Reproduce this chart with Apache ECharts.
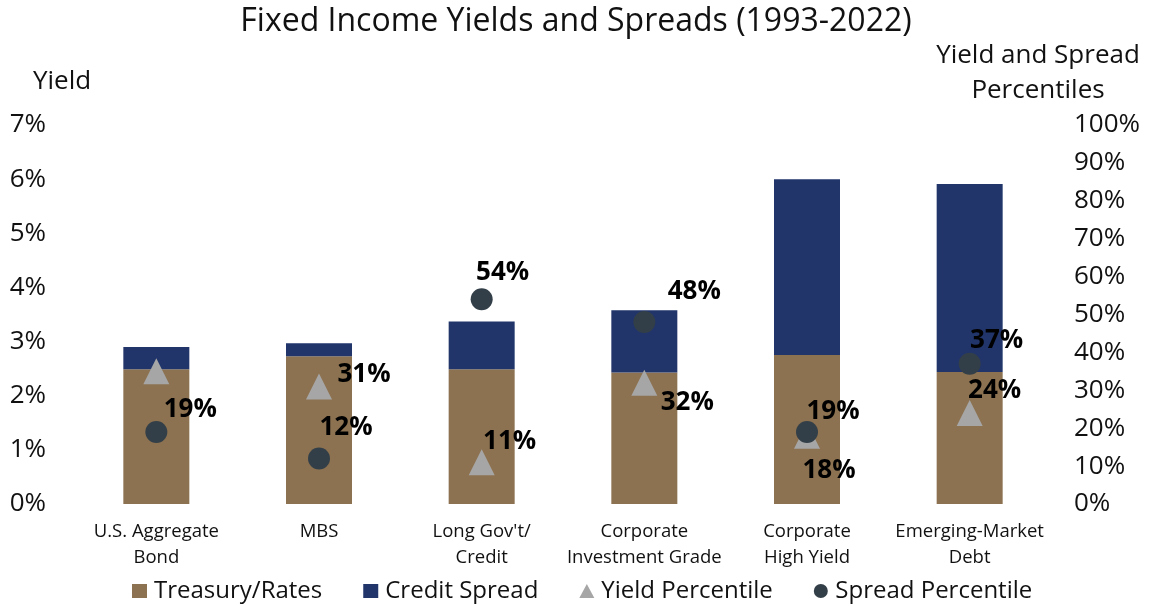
<!DOCTYPE html>
<html>
<head>
<meta charset="utf-8">
<script src="https://cdn.jsdelivr.net/npm/echarts@6/dist/echarts.min.js"></script>
<style>
  html, body { margin: 0; padding: 0; background: #fff; }
  #chart { width: 1152px; height: 606px; }
</style>
</head>
<body>
<div id="chart"></div>
<script>
const categories = [
  'U.S. Aggregate\nBond',
  'MBS',
  "Long Gov't/\nCredit",
  'Corporate\nInvestment Grade',
  'Corporate\nHigh Yield',
  'Emerging-Market\nDebt'
];
const treasuryRates = [2.49, 2.73, 2.49, 2.43, 2.75, 2.44];
const creditSpread = [0.41, 0.24, 0.88, 1.15, 3.25, 3.47];
const yieldPercentile = [35, 31, 11, 32, 18, 24];
const spreadPercentile = [19, 12, 54, 48, 19, 37];
const yieldTicks = [0, 1, 2, 3, 4, 5, 6, 7];
const percentileTicks = [0, 10, 20, 30, 40, 50, 60, 70, 80, 90, 100];

// hand-placed label offsets, like the original
const yieldLabelOffsets = [null, [45, -12], [28, -21], [43, 20], [22, 35], [25, -22]];
const spreadLabelOffsets = [[34, -22], [27, -31], [21, -27], [50, -30], [26, -20], [27, -23]];

const FONT = "'Open Sans', sans-serif";
const BROWN = '#8c7250';
const NAVY = '#21356b';
const GREY = '#a6a6a6';
const DARK = '#333f48';

const labelStyle = {
  show: true,
  position: 'inside',
  formatter: '{c}%',
  fontFamily: FONT,
  fontSize: 26,
  fontWeight: 'bold',
  color: '#000'
};

const pointData = (values, offsets) =>
  values.map((v, i) => ({
    value: v,
    label: offsets[i] ? { offset: offsets[i] } : { show: false }
  }));

const chart = echarts.init(document.getElementById('chart'));

chart.setOption({
  animation: false,
  backgroundColor: '#fff',
  textStyle: { fontFamily: FONT },
  title: [
    {
      text: 'Fixed Income Yields and Spreads (1993-2022)',
      left: 'center',
      top: 4,
      padding: 0,
      textStyle: { fontFamily: FONT, fontSize: 32, fontWeight: 'normal', color: '#111', lineHeight: 36 }
    },
    {
      text: 'Yield',
      left: 33,
      top: 67,
      padding: 0,
      textStyle: { fontFamily: FONT, fontSize: 26, fontWeight: 'normal', color: '#111', lineHeight: 30 }
    },
    {
      text: 'Yield and Spread\nPercentiles',
      left: 1038,
      top: 38,
      padding: 0,
      textAlign: 'center',
      textStyle: { fontFamily: FONT, fontSize: 26, fontWeight: 'normal', color: '#111', lineHeight: 35 }
    }
  ],
  legend: {
    left: 132,
    top: 579,
    padding: 0,
    itemWidth: 15,
    itemHeight: 14,
    itemGap: 41,
    textStyle: { fontFamily: FONT, fontSize: 24, color: '#111', lineHeight: 24, padding: [0, 0, 0, 2] },
    data: [
      { name: 'Treasury/Rates', icon: 'rect' },
      { name: 'Credit Spread', icon: 'rect' },
      { name: 'Yield Percentile', icon: 'triangle', itemStyle: { opacity: 1 } },
      { name: 'Spread Percentile', icon: 'circle', itemStyle: { opacity: 1 } }
    ]
  },
  grid: { left: 75, right: 101, top: 125, bottom: 102 },
  xAxis: {
    type: 'category',
    data: categories,
    axisLine: { show: false },
    axisTick: { show: false },
    axisLabel: {
      interval: 0,
      margin: 15,
      fontFamily: FONT,
      fontSize: 18.5,
      lineHeight: 26,
      color: '#111'
    }
  },
  yAxis: [
    {
      type: 'value',
      min: yieldTicks[0],
      max: yieldTicks[yieldTicks.length - 1],
      interval: 1,
      splitLine: { show: false },
      axisLine: { show: false },
      axisTick: { show: false },
      axisLabel: { formatter: '{value}%', margin: 29, fontFamily: FONT, fontSize: 26, color: '#111' }
    },
    {
      type: 'value',
      min: percentileTicks[0],
      max: percentileTicks[percentileTicks.length - 1],
      interval: 10,
      splitLine: { show: false },
      axisLine: { show: false },
      axisTick: { show: false },
      axisLabel: { formatter: '{value}%', margin: 23, fontFamily: FONT, fontSize: 26, color: '#111' }
    }
  ],
  series: [
    {
      name: 'Treasury/Rates',
      type: 'bar',
      stack: 'yield',
      barWidth: 66,
      data: treasuryRates,
      itemStyle: { color: BROWN }
    },
    {
      name: 'Credit Spread',
      type: 'bar',
      stack: 'yield',
      barWidth: 66,
      data: creditSpread,
      itemStyle: { color: NAVY }
    },
    {
      name: 'Yield Percentile',
      type: 'scatter',
      yAxisIndex: 1,
      symbol: 'triangle',
      symbolSize: 26,
      z: 3,
      itemStyle: { color: GREY, opacity: 1 },
      label: labelStyle,
      data: pointData(yieldPercentile, yieldLabelOffsets)
    },
    {
      name: 'Spread Percentile',
      type: 'scatter',
      yAxisIndex: 1,
      symbol: 'circle',
      symbolSize: 22,
      z: 4,
      itemStyle: { color: DARK, opacity: 1 },
      label: labelStyle,
      data: pointData(spreadPercentile, spreadLabelOffsets)
    }
  ]
});
</script>
</body>
</html>
